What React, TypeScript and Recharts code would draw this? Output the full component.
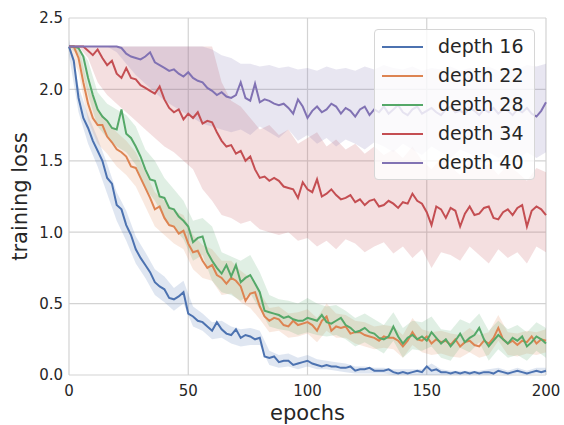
import { ComposedChart, Line, Area, XAxis, YAxis, CartesianGrid, Legend } from 'recharts';

// epochs sampled every 2 for the mean curves, every 4 for the shaded spread
const EPOCHS = Array.from({ length: 101 }, (_, i) => i * 2);
const BAND_EPOCHS = Array.from({ length: 51 }, (_, i) => i * 4);

const X_TICKS = [0, 50, 100, 150, 200];
const Y_TICKS = [0, 0.5, 1, 1.5, 2, 2.5];

const DEPTH16 = [
  2.30, 2.20, 1.94, 1.80, 1.73, 1.64, 1.57, 1.50, 1.38, 1.34,
  1.19, 1.16, 1.05, 0.98, 0.88, 0.82, 0.77, 0.72, 0.65, 0.62,
  0.60, 0.54, 0.53, 0.55, 0.58, 0.43, 0.41, 0.38, 0.37, 0.34,
  0.31, 0.37, 0.32, 0.29, 0.28, 0.32, 0.26, 0.28, 0.27, 0.25,
  0.26, 0.13, 0.12, 0.13, 0.09, 0.10, 0.10, 0.07, 0.08, 0.09,
  0.10, 0.08, 0.07, 0.06, 0.07, 0.06, 0.06, 0.05, 0.05, 0.06,
  0.03, 0.04, 0.04, 0.05, 0.03, 0.03, 0.03, 0.04, 0.02, 0.01,
  0.02, 0.01, 0.02, 0.03, 0.02, 0.06, 0.03, 0.04, 0.02, 0.02,
  0.01, 0.02, 0.01, 0.02, 0.01, 0.02, 0.01, 0.02, 0.02, 0.01,
  0.03, 0.02, 0.01, 0.02, 0.03, 0.02, 0.01, 0.02, 0.03, 0.02,
  0.03,
];
const DEPTH22 = [
  2.30, 2.30, 2.22, 2.05, 1.90, 1.80, 1.75, 1.75, 1.67, 1.63,
  1.58, 1.56, 1.53, 1.46, 1.45, 1.38, 1.31, 1.24, 1.16, 1.18,
  1.10, 1.05, 1.04, 0.99, 1.01, 0.92, 0.86, 0.87, 0.80, 0.75,
  0.77, 0.70, 0.68, 0.64, 0.68, 0.66, 0.62, 0.52, 0.57, 0.58,
  0.48, 0.41, 0.38, 0.40, 0.39, 0.35, 0.34, 0.38, 0.35, 0.36,
  0.37, 0.35, 0.31, 0.38, 0.41, 0.31, 0.34, 0.33, 0.34, 0.29,
  0.30, 0.30, 0.28, 0.27, 0.26, 0.24, 0.27, 0.26, 0.26, 0.24,
  0.20, 0.24, 0.30, 0.25, 0.24, 0.27, 0.22, 0.25, 0.23, 0.24,
  0.21, 0.25, 0.20, 0.23, 0.24, 0.21, 0.20, 0.24, 0.22, 0.26,
  0.33, 0.25, 0.22, 0.24, 0.21, 0.24, 0.23, 0.27, 0.22, 0.25,
  0.24,
];
const DEPTH28 = [
  2.30, 2.30, 2.29, 2.23, 2.08, 1.96, 1.86, 1.81, 1.78, 1.73,
  1.72, 1.86, 1.69, 1.66, 1.60, 1.53, 1.44, 1.37, 1.36, 1.25,
  1.24, 1.17, 1.16, 1.11, 1.08, 1.04, 0.93, 0.96, 0.97, 0.86,
  0.80, 0.75, 0.71, 0.77, 0.69, 0.77, 0.65, 0.68, 0.70, 0.64,
  0.58, 0.45, 0.44, 0.43, 0.42, 0.40, 0.41, 0.39, 0.38, 0.38,
  0.40, 0.39, 0.38, 0.42, 0.37, 0.36, 0.38, 0.40, 0.35, 0.33,
  0.30, 0.31, 0.33, 0.30, 0.29, 0.26, 0.25, 0.27, 0.34, 0.27,
  0.22, 0.26, 0.28, 0.25, 0.27, 0.24, 0.30, 0.26, 0.22, 0.25,
  0.20, 0.24, 0.29, 0.23, 0.26, 0.28, 0.33, 0.25, 0.20, 0.24,
  0.28, 0.25, 0.22, 0.26, 0.24, 0.27, 0.20, 0.23, 0.27, 0.25,
  0.22,
];
const DEPTH34 = [
  2.30, 2.30, 2.30, 2.30, 2.27, 2.24, 2.28, 2.22, 2.17, 2.20,
  2.11, 2.08, 2.15, 2.08, 2.07, 2.03, 2.01, 1.99, 1.97, 2.02,
  1.93, 1.87, 1.84, 1.86, 1.79, 1.83, 1.80, 1.84, 1.76, 1.78,
  1.77, 1.70, 1.64, 1.60, 1.61, 1.55, 1.57, 1.50, 1.53, 1.44,
  1.38, 1.39, 1.36, 1.38, 1.36, 1.32, 1.31, 1.30, 1.24, 1.35,
  1.30, 1.28, 1.37, 1.25, 1.27, 1.30, 1.26, 1.23, 1.24, 1.26,
  1.21, 1.23, 1.19, 1.22, 1.23, 1.18, 1.19, 1.22, 1.20, 1.17,
  1.21, 1.20, 1.27, 1.22, 1.20, 1.14, 1.05, 1.18, 1.16, 1.10,
  1.17, 1.15, 1.04, 1.13, 1.18, 1.12, 1.13, 1.17, 1.18, 1.10,
  1.09, 1.14, 1.16, 1.12, 1.17, 1.19, 1.04, 1.15, 1.18, 1.16,
  1.12,
];
const DEPTH40 = [
  2.30, 2.30, 2.30, 2.30, 2.30, 2.30, 2.30, 2.30, 2.30, 2.30,
  2.30, 2.29, 2.25, 2.23, 2.22, 2.21, 2.23, 2.26, 2.19, 2.17,
  2.15, 2.13, 2.14, 2.11, 2.09, 2.12, 2.08, 2.06, 2.05, 2.01,
  1.99, 1.96, 1.98, 1.95, 1.94, 1.96, 2.05, 1.94, 1.92, 2.04,
  1.91, 1.93, 1.92, 1.90, 1.89, 1.90, 1.87, 1.83, 1.93, 1.88,
  1.80, 1.85, 1.88, 1.84, 1.86, 1.90, 1.88, 1.83, 1.87, 1.85,
  1.81, 1.86, 1.88, 1.82, 1.86, 1.84, 1.88, 1.83, 1.86, 1.89,
  1.84, 1.82, 1.86, 1.88, 1.83, 1.85, 1.87, 1.84, 1.82, 1.86,
  1.88, 1.84, 1.85, 1.83, 1.87, 1.85, 1.82, 1.86, 1.84, 1.87,
  1.83, 1.86, 1.85, 1.82, 1.86, 1.84, 1.87, 1.83, 1.81, 1.85,
  1.91,
];

// spread across runs (low / high), every 4 epochs
const BLUE_LO = [
  2.24, 1.84, 1.62, 1.46, 1.27, 1.08, 0.94, 0.78, 0.68, 0.56,
  0.51, 0.45, 0.50, 0.34, 0.31, 0.25, 0.26, 0.22, 0.20, 0.21,
  0.21, 0.07, 0.05, 0.06, 0.04, 0.06, 0.04, 0.04, 0.03, 0.02,
  0.01, 0.01, 0.01, 0.01, 0.00, 0.00, 0.00, 0.00, 0.00, 0.00,
  0.00, 0.00, 0.00, 0.00, 0.00, 0.01, 0.00, 0.01, 0.00, 0.01,
  0.01,
];
const BLUE_HI = [
  2.35, 2.02, 1.82, 1.66, 1.48, 1.28, 1.15, 0.97, 0.86, 0.74,
  0.69, 0.61, 0.66, 0.48, 0.43, 0.37, 0.38, 0.34, 0.32, 0.33,
  0.31, 0.17, 0.14, 0.15, 0.12, 0.14, 0.11, 0.10, 0.09, 0.08,
  0.06, 0.06, 0.05, 0.05, 0.04, 0.04, 0.04, 0.04, 0.08, 0.04,
  0.03, 0.03, 0.03, 0.03, 0.04, 0.05, 0.03, 0.05, 0.03, 0.05,
  0.05,
];
const ORANGE_LO = [
  2.28, 2.12, 1.78, 1.62, 1.55, 1.46, 1.40, 1.32, 1.18, 1.04,
  0.98, 0.92, 0.88, 0.74, 0.68, 0.66, 0.56, 0.57, 0.51, 0.47,
  0.39, 0.30, 0.31, 0.26, 0.27, 0.29, 0.23, 0.31, 0.26, 0.26,
  0.22, 0.20, 0.18, 0.19, 0.18, 0.12, 0.21, 0.16, 0.14, 0.15,
  0.13, 0.12, 0.16, 0.12, 0.14, 0.24, 0.14, 0.13, 0.15, 0.14,
  0.16,
];
const ORANGE_HI = [
  2.30, 2.30, 2.02, 1.86, 1.78, 1.70, 1.64, 1.56, 1.42, 1.28,
  1.22, 1.15, 1.12, 0.98, 0.91, 0.88, 0.80, 0.80, 0.73, 0.68,
  0.58, 0.47, 0.48, 0.43, 0.44, 0.46, 0.40, 0.50, 0.43, 0.42,
  0.38, 0.37, 0.34, 0.35, 0.34, 0.28, 0.40, 0.32, 0.30, 0.31,
  0.29, 0.28, 0.33, 0.28, 0.30, 0.42, 0.30, 0.29, 0.31, 0.30,
  0.32,
];
const GREEN_LO = [
  2.30, 2.24, 1.96, 1.74, 1.66, 1.60, 1.56, 1.47, 1.31, 1.22,
  1.10, 1.03, 0.95, 0.80, 0.84, 0.66, 0.58, 0.56, 0.52, 0.57,
  0.46, 0.34, 0.32, 0.31, 0.28, 0.30, 0.28, 0.27, 0.28, 0.25,
  0.20, 0.23, 0.19, 0.15, 0.24, 0.12, 0.18, 0.17, 0.20, 0.12,
  0.10, 0.19, 0.16, 0.23, 0.10, 0.18, 0.12, 0.14, 0.10, 0.17,
  0.12,
];
const GREEN_HI = [
  2.30, 2.30, 2.20, 1.98, 1.90, 1.86, 1.82, 1.74, 1.58, 1.50,
  1.38, 1.30, 1.22, 1.08, 1.10, 1.04, 0.86, 0.83, 0.80, 0.84,
  0.72, 0.56, 0.53, 0.52, 0.50, 0.54, 0.50, 0.48, 0.49, 0.45,
  0.40, 0.43, 0.39, 0.35, 0.44, 0.33, 0.38, 0.37, 0.41, 0.32,
  0.31, 0.39, 0.36, 0.43, 0.31, 0.38, 0.32, 0.35, 0.30, 0.37,
  0.33,
];
const RED_LO = [
  2.30, 2.30, 2.22, 2.05, 1.96, 1.90, 1.84, 1.78, 1.72, 1.66,
  1.60, 1.56, 1.50, 1.44, 1.30, 1.22, 1.12, 1.10, 1.06, 1.08,
  1.02, 1.00, 0.98, 1.00, 0.94, 0.96, 0.90, 0.94, 0.88, 0.95,
  0.92, 0.86, 0.90, 0.93, 0.85, 0.90, 0.82, 0.88, 0.75, 0.86,
  0.84, 0.80, 0.90, 0.84, 0.78, 0.88, 0.82, 0.86, 0.78, 0.90,
  0.86,
];
const RED_HI = [
  2.30, 2.30, 2.30, 2.30, 2.30, 2.30, 2.30, 2.30, 2.30, 2.30,
  2.30, 2.30, 2.30, 2.30, 2.30, 2.30, 2.05, 1.92, 1.88, 1.80,
  1.72, 1.75, 1.68, 1.72, 1.62, 1.66, 1.70, 1.60, 1.65, 1.58,
  1.62, 1.55, 1.60, 1.54, 1.58, 1.52, 1.60, 1.50, 1.44, 1.52,
  1.46, 1.40, 1.50, 1.44, 1.48, 1.40, 1.47, 1.42, 1.36, 1.45,
  1.42,
];
const PURPLE_LO = [
  2.30, 2.30, 2.30, 2.30, 2.30, 2.26, 2.18, 2.10, 2.04, 1.98,
  1.92, 1.88, 1.84, 1.80, 1.76, 1.74, 1.72, 1.70, 1.72, 1.68,
  1.74, 1.70, 1.66, 1.72, 1.64, 1.68, 1.62, 1.66, 1.60, 1.65,
  1.62, 1.58, 1.63, 1.60, 1.56, 1.62, 1.58, 1.54, 1.60, 1.56,
  1.52, 1.58, 1.55, 1.50, 1.56, 1.52, 1.55, 1.50, 1.56, 1.52,
  1.56,
];
const PURPLE_HI = [
  2.30, 2.30, 2.30, 2.30, 2.30, 2.30, 2.30, 2.30, 2.30, 2.30,
  2.30, 2.30, 2.30, 2.30, 2.30, 2.28, 2.24, 2.22, 2.18, 2.18,
  2.16, 2.17, 2.15, 2.16, 2.14, 2.15, 2.13, 2.16, 2.14, 2.15,
  2.13, 2.16, 2.14, 2.17, 2.15, 2.14, 2.16, 2.13, 2.15, 2.14,
  2.16, 2.13, 2.15, 2.14, 2.16, 2.13, 2.15, 2.14, 2.17, 2.16,
  2.18,
];

const SERIES = [
  { key: 'd16', name: 'depth 16', color: '#4C72B0' },
  { key: 'd22', name: 'depth 22', color: '#DD8452' },
  { key: 'd28', name: 'depth 28', color: '#55A868' },
  { key: 'd34', name: 'depth 34', color: '#C44E52' },
  { key: 'd40', name: 'depth 40', color: '#8172B3' },
];

const rows = EPOCHS.map((epoch, i) => ({
  epoch,
  d16: DEPTH16[i],
  d22: DEPTH22[i],
  d28: DEPTH28[i],
  d34: DEPTH34[i],
  d40: DEPTH40[i],
}));

const bandRows = BAND_EPOCHS.map((epoch, i) => ({
  epoch,
  d16: [BLUE_LO[i], BLUE_HI[i]],
  d22: [ORANGE_LO[i], ORANGE_HI[i]],
  d28: [GREEN_LO[i], GREEN_HI[i]],
  d34: [RED_LO[i], RED_HI[i]],
  d40: [PURPLE_LO[i], PURPLE_HI[i]],
}));

const TEXT = '#262626';

function LegendBox({ payload }: any) {
  const items = (payload || []).filter((p: any) => p.type !== 'none');
  return (
    <div
      style={{
        boxSizing: 'border-box',
        width: 161,
        height: 151,
        padding: '2px 0 0 0',
        background: 'rgba(255,255,255,0.8)',
        border: '1px solid #d6d6d6',
        borderRadius: 4,
      }}
    >
      {items.map((p: any) => (
        <div key={p.value} style={{ display: 'flex', alignItems: 'center', height: 29 }}>
          <div style={{ marginLeft: 7, width: 41, height: 2, background: p.color }} />
          <span style={{ marginLeft: 15, fontSize: 19, color: TEXT, lineHeight: '29px' }}>{p.value}</span>
        </div>
      ))}
    </div>
  );
}

export default function App() {
  return (
    <div style={{ position: 'absolute', left: 0, top: 0 }}>
      <ComposedChart
        width={564}
        height={425}
        data={rows}
        margin={{ top: 18, right: 18, bottom: 0, left: 0 }}
        style={{ fontFamily: 'DejaVu Sans' }}
      >
        <CartesianGrid stroke="#d3d3d3" strokeWidth={1.2} />
        <XAxis
          dataKey="epoch"
          type="number"
          domain={[0, 200]}
          ticks={X_TICKS}
          height={50}
          axisLine={false}
          tickLine={false}
          tickSize={0}
          tickMargin={10}
          tick={{ fontSize: 15, fill: TEXT }}
          label={{ value: 'epochs', position: 'insideBottom', offset: 5, style: { fontSize: 21, fill: TEXT } }}
        />
        <YAxis
          type="number"
          domain={[0, 2.5]}
          ticks={Y_TICKS}
          width={69}
          axisLine={false}
          tickLine={false}
          tickSize={0}
          tickMargin={6}
          tickFormatter={(v: number) => v.toFixed(1)}
          tick={{ fontSize: 15, fill: TEXT }}
          label={{
            value: 'training loss',
            angle: -90,
            position: 'insideLeft',
            offset: 20,
            style: { fontSize: 21, fill: TEXT, textAnchor: 'middle' },
          }}
        />
        {SERIES.map((s) => (
          <Area
            key={`band-${s.key}`}
            data={bandRows}
            dataKey={s.key}
            type="linear"
            stroke="none"
            fill={s.color}
            fillOpacity={0.18}
            legendType="none"
            isAnimationActive={false}
          />
        ))}
        {SERIES.map((s) => (
          <Line
            key={s.key}
            dataKey={s.key}
            name={s.name}
            type="linear"
            stroke={s.color}
            strokeWidth={2}
            dot={false}
            isAnimationActive={false}
          />
        ))}
        <Legend
          content={<LegendBox />}
          layout="horizontal"
          verticalAlign="middle"
          align="center"
          wrapperStyle={{ left: 374, top: 29, width: 161 }}
        />
      </ComposedChart>
    </div>
  );
}
